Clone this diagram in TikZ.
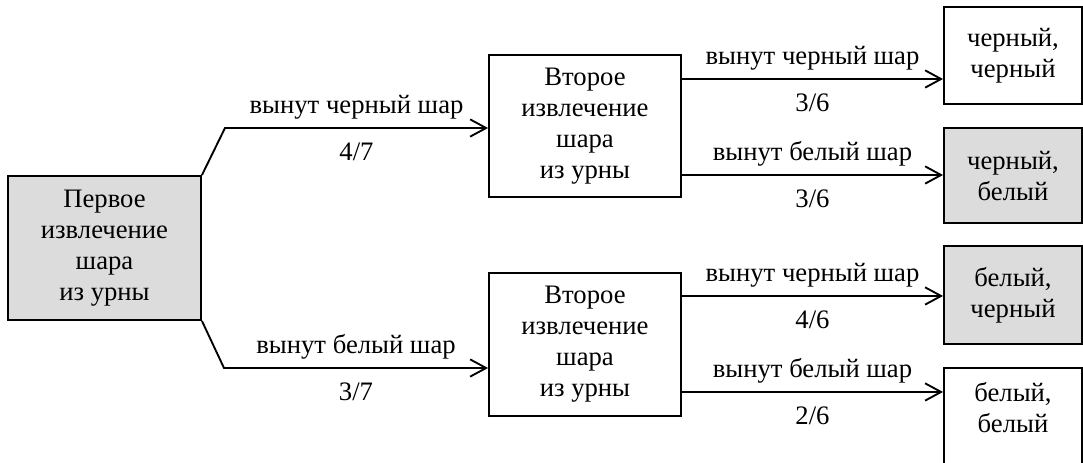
\documentclass[tikz,border=0pt]{standalone}
\usepackage{fontspec}
\setmainfont{Liberation Serif}
\usetikzlibrary{arrows.meta}
\definecolor{boxgray}{HTML}{DCDCDC}
\begin{document}
\begin{tikzpicture}[x=0.75pt,y=-0.75pt,
  every node/.style={font=\fontsize{20}{23.25}\selectfont},
  box/.style={draw, line width=1.4pt, align=center, inner sep=0pt},
  grey/.style={fill=boxgray},
  stage/.style={box, minimum width=144pt, minimum height=107pt},
  leaf/.style={box, minimum width=103.5pt},
  conn/.style={line width=1.4pt},
  arr/.style={conn, -{Straight Barb[length=12pt, width=13pt, line width=1.4pt]}},
  labup/.style={anchor=base, yshift=11pt},
  labdn/.style={anchor=base, yshift=-24.5pt}]
\useasboundingbox (0,0) rectangle (1083,462);

% stages of drawing
\node[stage, grey, minimum width=144.75pt, minimum height=108pt] (first) at (104.5,248)
  {Первое\\извлечение\\шара\\из урны};
\node[stage] (secA) at (585,126) {Второе\\извлечение\\шара\\из урны};
\node[stage] (secB) at (585,344.5) {Второе\\извлечение\\шара\\из урны};

% outcomes
\node[leaf, minimum height=72.75pt] (bb) at (1013,55.5) {черный,\\черный};
\node[leaf, grey, minimum height=71.25pt] (bw) at (1013,175.5) {черный,\\белый};
\node[leaf, grey, minimum height=73.5pt] (wb) at (1013,295) {белый,\\черный};
\node[leaf, minimum height=78pt, anchor=north] (ww) at (1013,367) {};
\node[align=center, inner sep=0pt] (wwtext) at (1013,408) {белый,\\белый};

% first draw
\coordinate (kA) at (225,128);
\coordinate (kB) at (224,368);
\draw[arr] (first.north east) -- (kA) -- node[labup] {вынут черный шар} node[labdn] {4/7} (secA.west |- kA);
\draw[arr] (first.south east) -- (kB) -- node[labup] {вынут белый шар} node[labdn] {3/7} (secB.west |- kB);

% second draw
\draw[arr] ([yshift=35.25pt]secA.east) -- node[labup] {вынут черный шар} node[labdn] {3/6} ([yshift=35.25pt]secA.east -| bb.west);
\draw[arr] ([yshift=-36.75pt]secA.east) -- node[labup] {вынут белый шар} node[labdn] {3/6} ([yshift=-36.75pt]secA.east -| bw.west);
\draw[arr] ([yshift=36.4pt]secB.east) -- node[labup] {вынут черный шар} node[labdn] {4/6} ([yshift=36.4pt]secB.east -| wb.west);
\draw[arr] ([yshift=-35.6pt]secB.east) -- node[labup] {вынут белый шар} node[labdn] {2/6} ([yshift=-35.6pt]secB.east -| ww.west);
\end{tikzpicture}
\end{document}
